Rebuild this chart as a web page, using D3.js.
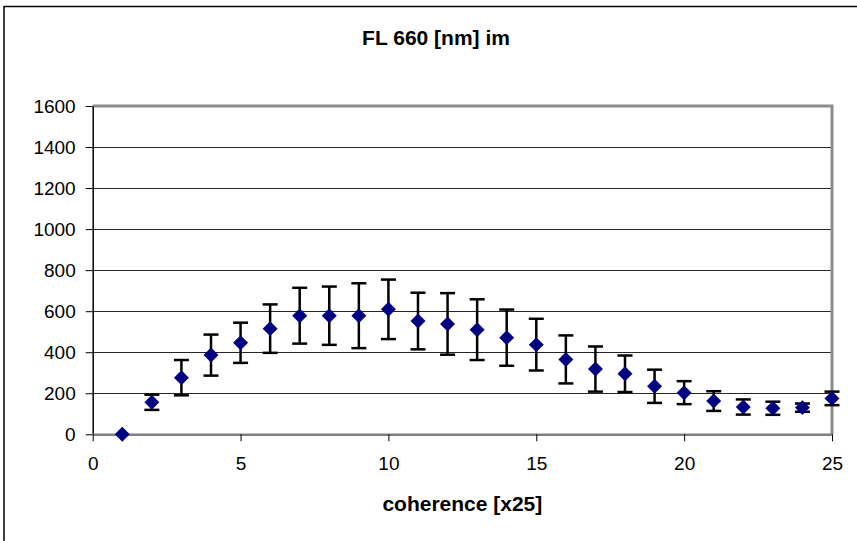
<!DOCTYPE html>
<html>
<head>
<meta charset="utf-8">
<script src="https://cdn.jsdelivr.net/npm/d3@7"></script>
<style>
  html, body { margin: 0; padding: 0; background: #fff; }
  svg { display: block; font-family: "Liberation Sans", Arial, sans-serif; }
</style>
</head>
<body>
<svg id="chart" width="857" height="541"></svg>
<script>
// ---- data ----
const titleText = "FL 660 [nm] im";
const xLabelText = "coherence [x25]";
const xValues = [1,2,3,4,5,6,7,8,9,10,11,12,13,14,15,16,17,18,19,20,21,22,23,24,25];
const yValues = [0,156,276,386,446,515,578,578,578,609,552,538,510,471,437,365,318,295,234,203,162,133,127,130,175];
const yErrors = [0,37,86,100,98,118,136,142,158,145,138,150,148,137,126,117,110,89,81,56,48,37,32,20,33];
const xTicks = [0,5,10,15,20,25];
const yTicks = [0,200,400,600,800,1000,1200,1400,1600];

// ---- layout ----
const W = 857, H = 541;
const plot = { left: 92.7, right: 832, top: 106, bottom: 434.3 };

const svg = d3.select("#chart");
svg.append("rect").attr("width", W).attr("height", H).attr("fill", "#fff");

// outer chart frame (extends beyond right/bottom edge)
svg.append("rect")
  .attr("x", 4).attr("y", 6.5)
  .attr("width", 1000).attr("height", 1000)
  .attr("fill", "none").attr("stroke", "#000").attr("stroke-width", 1.5);

const x = d3.scaleLinear().domain([0, 25]).range([plot.left, plot.right]);
const y = d3.scaleLinear().domain([0, 1600]).range([plot.bottom, plot.top]);

// gridlines
svg.append("g")
  .selectAll("line")
  .data(yTicks.filter(t => t > 0 && t < 1600))
  .join("line")
  .attr("x1", plot.left).attr("x2", plot.right)
  .attr("y1", d => Math.round(y(d)) + 0.5).attr("y2", d => Math.round(y(d)) + 0.5)
  .attr("stroke", "#262626").attr("stroke-width", 1);

// plot area border (top and right, gray)
svg.append("path")
  .attr("d", `M${plot.left},${plot.top} H${plot.right} V${plot.bottom}`)
  .attr("fill", "none").attr("stroke", "#8c8c8c").attr("stroke-width", 3);

// x axis
const xAxis = d3.axisBottom(x).tickValues(xTicks).tickFormat(d3.format("d"))
  .tickSize(7).tickPadding(15).tickSizeOuter(0);
const gx = svg.append("g").attr("transform", `translate(0,${plot.bottom})`).call(xAxis);
gx.select(".domain").attr("stroke", "#808080").attr("stroke-width", 2.5);
gx.selectAll(".tick line").attr("stroke", "#000").attr("stroke-width", 1);
gx.selectAll(".tick text").attr("font-size", 19).attr("fill", "#000")
  .attr("font-family", "Liberation Sans, Arial, sans-serif");

// y axis
const yAxis = d3.axisLeft(y).tickValues(yTicks).tickFormat(d3.format("d"))
  .tickSize(7).tickPadding(10).tickSizeOuter(0);
const gy = svg.append("g").attr("transform", `translate(${plot.left},0)`).call(yAxis);
gy.select(".domain").attr("stroke", "#000").attr("stroke-width", 1.5);
gy.selectAll(".tick line").attr("stroke", "#000").attr("stroke-width", 1);
gy.selectAll(".tick text").attr("font-size", 19).attr("fill", "#000")
  .attr("font-family", "Liberation Sans, Arial, sans-serif");

gx.raise();

// data
const data = xValues.map((xv, i) => ({ x: xv, y: yValues[i], e: yErrors[i] }));

// error bars
const eb = svg.append("g").attr("stroke", "#000").attr("stroke-width", 2.5).attr("fill", "none");
const capHalf = 7.5;
data.filter(d => d.e > 0).forEach(d => {
  const cx = x(d.x), y0 = y(d.y - d.e), y1 = y(d.y + d.e);
  eb.append("line").attr("x1", cx).attr("x2", cx).attr("y1", y0).attr("y2", y1);
  eb.append("line").attr("x1", cx - capHalf).attr("x2", cx + capHalf).attr("y1", y0).attr("y2", y0);
  eb.append("line").attr("x1", cx - capHalf).attr("x2", cx + capHalf).attr("y1", y1).attr("y2", y1);
});

// markers (diamonds)
const diamond = d3.symbol().type(d3.symbolSquare).size(112);
svg.append("g")
  .selectAll("path")
  .data(data)
  .join("path")
  .attr("d", diamond)
  .attr("transform", d => `translate(${x(d.x)},${y(d.y)}) rotate(45)`)
  .attr("fill", "#000080");

// titles
svg.append("text")
  .attr("x", 436).attr("y", 45)
  .attr("text-anchor", "middle")
  .attr("font-size", 21).attr("font-weight", "bold")
  .text(titleText);

svg.append("text")
  .attr("x", (plot.left + plot.right) / 2).attr("y", 511)
  .attr("text-anchor", "middle")
  .attr("font-size", 21).attr("font-weight", "bold")
  .text(xLabelText);
</script>
</body>
</html>
